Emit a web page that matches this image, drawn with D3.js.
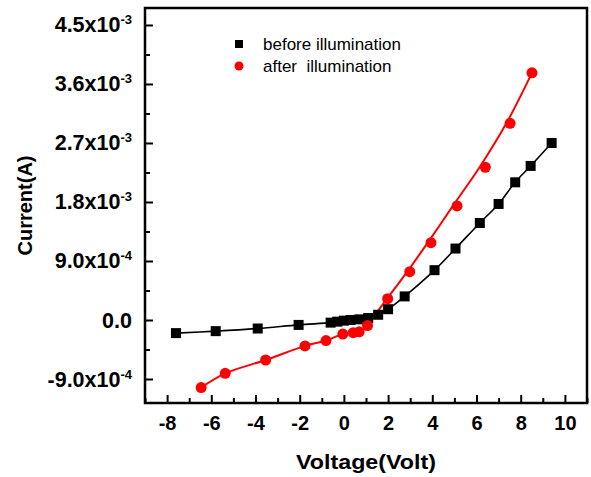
<!DOCTYPE html>
<html>
<head>
<meta charset="utf-8">
<script src="https://cdn.jsdelivr.net/npm/d3@7"></script>
<style>
  body { margin: 0; background: #fff; }
  svg { font-family: "Liberation Sans", Arial, sans-serif; }
</style>
</head>
<body>
<div id="container"></div>
<script>
// CONSTANTS AND GLOBALS
const width = 591,
  height = 477,
  margin = { top: 8, bottom: 74, left: 145, right: 4 };

// DATA (voltage in V, current in A)
const beforeV = [-7.6, -5.8, -3.9, -2.05, -0.6, -0.3, 0, 0.3, 0.7, 1.1, 1.55, 2.0, 2.75, 4.1, 5.05, 6.15, 7.0, 7.75, 8.45, 9.4];
const beforeI = [-2.0e-4, -1.7e-4, -1.3e-4, -0.75e-4, -0.4e-4, -0.25e-4, -0.1e-4, 0.0, 0.1e-4, 0.3e-4, 0.8e-4, 1.65e-4, 3.6e-4, 7.6e-4, 10.9e-4, 14.8e-4, 17.7e-4, 21.0e-4, 23.5e-4, 27.0e-4];

const afterV = [-6.46, -5.37, -3.54, -1.76, -0.81, -0.05, 0.42, 0.69, 1.07, 1.98, 2.98, 3.94, 5.12, 6.4, 7.52, 8.51];
const afterI = [-10.3e-4, -8.13e-4, -6.1e-4, -3.95e-4, -3.13e-4, -2.14e-4, -1.94e-4, -1.8e-4, -0.84e-4, 3.25e-4, 7.37e-4, 11.8e-4, 17.4e-4, 23.3e-4, 30.0e-4, 37.7e-4];

// fitted curve for "after illumination"
const afterFitV = [-6.46, -5.37, -3.54, -1.76, -0.81, -0.05, 0.42, 0.69, 1.07, 1.5, 2.0, 3.0, 4.0, 4.93, 6.14, 7.35, 8.51];
const afterFitI = [-10.3e-4, -8.13e-4, -6.1e-4, -3.95e-4, -3.13e-4, -2.14e-4, -1.94e-4, -1.8e-4, -0.84e-4, 1.2e-4, 3.45e-4, 8.0e-4, 12.8e-4, 17.4e-4, 23.3e-4, 30.0e-4, 37.7e-4];

const xTicks = [-8, -6, -4, -2, 0, 2, 4, 6, 8, 10];
const xMinorTicks = [-9, -7, -5, -3, -1, 1, 3, 5, 7, 9, 11];
const yTicks = [-9e-4, 0, 9e-4, 1.8e-3, 2.7e-3, 3.6e-3, 4.5e-3];
const yTickMantissa = ["-9.0", "0.0", "9.0", "1.8", "2.7", "3.6", "4.5"];
const yTickExp = ["-4", null, "-4", "-3", "-3", "-3", "-3"];
const yMinorTicks = [-4.5e-4, 4.5e-4, 1.35e-3, 2.25e-3, 3.15e-3, 4.05e-3];

const legendLabels = ["before illumination", "after  illumination"];

const before = beforeV.map((v, i) => ({ v, c: beforeI[i] }));
const after = afterV.map((v, i) => ({ v, c: afterI[i] }));
const afterFit = afterFitV.map((v, i) => ({ v, c: afterFitI[i] }));

// SCALES
const xScale = d3.scaleLinear()
  .domain([-9, 11])
  .range([margin.left, width - margin.right]);

const yScale = d3.scaleLinear()
  .domain([-1.266e-3, 4.759e-3])
  .range([height - margin.bottom, margin.top]);

// CREATE SVG ELEMENT
const svg = d3.select("#container")
  .append("svg")
  .attr("width", width)
  .attr("height", height);

// AXES (ticks pointing inward)
const xAxisGroup = svg.append("g")
  .attr("transform", `translate(0, ${height - margin.bottom})`)
  .call(d3.axisBottom(xScale).tickValues(xTicks).tickSize(-8).tickPadding(13).tickFormat(d => String(d)));

svg.append("g")
  .attr("transform", `translate(0, ${height - margin.bottom})`)
  .call(d3.axisBottom(xScale).tickValues(xMinorTicks).tickSize(-5).tickFormat(""));

const yAxisGroup = svg.append("g")
  .attr("transform", `translate(${margin.left}, 0)`)
  .call(d3.axisLeft(yScale).tickValues(yTicks).tickSize(-8).tickFormat(""));

svg.append("g")
  .attr("transform", `translate(${margin.left}, 0)`)
  .call(d3.axisLeft(yScale).tickValues(yMinorTicks).tickSize(-5).tickFormat(""));

svg.selectAll(".domain").remove();
svg.selectAll(".tick line").attr("stroke", "#000").attr("stroke-width", 2);

xAxisGroup.selectAll(".tick text")
  .attr("fill", "#000")
  .attr("font-size", 20)
  .attr("font-weight", "bold")
  .attr("font-family", "Liberation Sans, Arial, sans-serif");

// y tick labels with superscript exponents
yAxisGroup.selectAll(".tick").each(function (d, i) {
  const t = d3.select(this).append("text")
    .attr("x", -13)
    .attr("y", 7)
    .attr("text-anchor", "end")
    .attr("fill", "#000")
    .attr("font-size", 21.5)
    .attr("font-weight", "bold")
    .attr("font-family", "Liberation Sans, Arial, sans-serif");
  if (yTickExp[i]) {
    t.append("tspan").text(yTickMantissa[i] + "x10");
    t.append("tspan").attr("font-size", 13).attr("dy", -8).text(yTickExp[i]);
  } else {
    t.text(yTickMantissa[i]);
  }
});

// FRAME
svg.append("rect")
  .attr("x", margin.left)
  .attr("y", margin.top)
  .attr("width", width - margin.left - margin.right)
  .attr("height", height - margin.top - margin.bottom)
  .attr("fill", "none")
  .attr("stroke", "#000")
  .attr("stroke-width", 2.5);

// LINES
const line = d3.line()
  .x(d => xScale(d.v))
  .y(d => yScale(d.c))
  .curve(d3.curveCatmullRom.alpha(0.5));

svg.append("path")
  .datum(before)
  .attr("fill", "none")
  .attr("stroke", "#000")
  .attr("stroke-width", 1.6)
  .attr("d", line);

svg.append("path")
  .datum(afterFit)
  .attr("fill", "none")
  .attr("stroke", "red")
  .attr("stroke-width", 2)
  .attr("d", line);

// MARKERS
svg.append("g")
  .selectAll("rect")
  .data(before)
  .join("rect")
  .attr("x", d => xScale(d.v) - 5)
  .attr("y", d => yScale(d.c) - 5)
  .attr("width", 10)
  .attr("height", 10)
  .attr("fill", "#000");

svg.append("g")
  .selectAll("circle")
  .data(after)
  .join("circle")
  .attr("cx", d => xScale(d.v))
  .attr("cy", d => yScale(d.c))
  .attr("r", 5.5)
  .attr("fill", "red");

// LEGEND
const legend = svg.append("g").attr("transform", "translate(239, 44)");
legend.append("rect").attr("x", -4).attr("y", -4).attr("width", 8).attr("height", 8).attr("fill", "#000");
legend.append("circle").attr("cx", 0).attr("cy", 22).attr("r", 4.5).attr("fill", "red");
legend.selectAll("text")
  .data(legendLabels)
  .join("text")
  .attr("x", 24)
  .attr("y", (d, i) => 6 + i * 22)
  .attr("font-size", 17)
  .attr("fill", "#000")
  .attr("xml:space", "preserve")
  .style("white-space", "pre")
  .text(d => d);

// AXIS TITLES
svg.append("text")
  .attr("x", (margin.left + width - margin.right) / 2)
  .attr("y", 469)
  .attr("text-anchor", "middle")
  .attr("font-size", 20)
  .attr("font-weight", "bold")
  .attr("textLength", 140)
  .attr("lengthAdjust", "spacingAndGlyphs")
  .text("Voltage(Volt)");

svg.append("text")
  .attr("transform", `translate(32, ${(margin.top + height - margin.bottom) / 2}) rotate(-90)`)
  .attr("text-anchor", "middle")
  .attr("font-size", 20)
  .attr("font-weight", "bold")
  .text("Current(A)");
</script>
</body>
</html>
